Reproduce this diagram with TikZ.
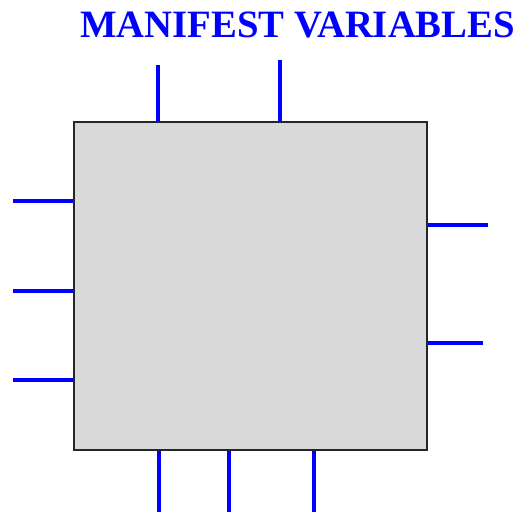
\documentclass[tikz,border=0pt]{standalone}
\usepackage{fontspec}
\setmainfont{Liberation Serif}
\definecolor{boxgray}{HTML}{D9D9D9}
\begin{document}
\begin{tikzpicture}[x=1pt,y=-1pt,
  wire/.style={draw=blue, line width=4pt},
  mainbox/.style={draw=black!85, fill=boxgray, line width=1.5pt, minimum width=353pt, minimum height=328pt, inner sep=0pt}]
\useasboundingbox (0,0) rectangle (520,512);
\node[anchor=base, text=blue, inner sep=0pt] (title) at (297.5,37) {\resizebox{435pt}{!}{\bfseries MANIFEST VARIABLES}};
\node[mainbox] (box) at (250.5,286) {};
% top
\coordinate (t1) at (158,65);
\coordinate (t2) at (280,60);
% left
\coordinate (l1) at (13,201);
\coordinate (l2) at (13,291);
\coordinate (l3) at (13,380);
% right
\coordinate (r1) at (488,225);
\coordinate (r2) at (483,343);
% bottom
\coordinate (b1) at (158.5,512);
\coordinate (b2) at (229,512);
\coordinate (b3) at (314,512);
\foreach \c in {t1,t2} \draw[wire] (\c) -- (\c |- box.north);
\foreach \c in {b1,b2,b3} \draw[wire] (\c) -- (\c |- box.south);
\foreach \c in {l1,l2,l3} \draw[wire] (\c) -- (\c -| box.west);
\foreach \c in {r1,r2} \draw[wire] (\c) -- (\c -| box.east);
\end{tikzpicture}
\end{document}
